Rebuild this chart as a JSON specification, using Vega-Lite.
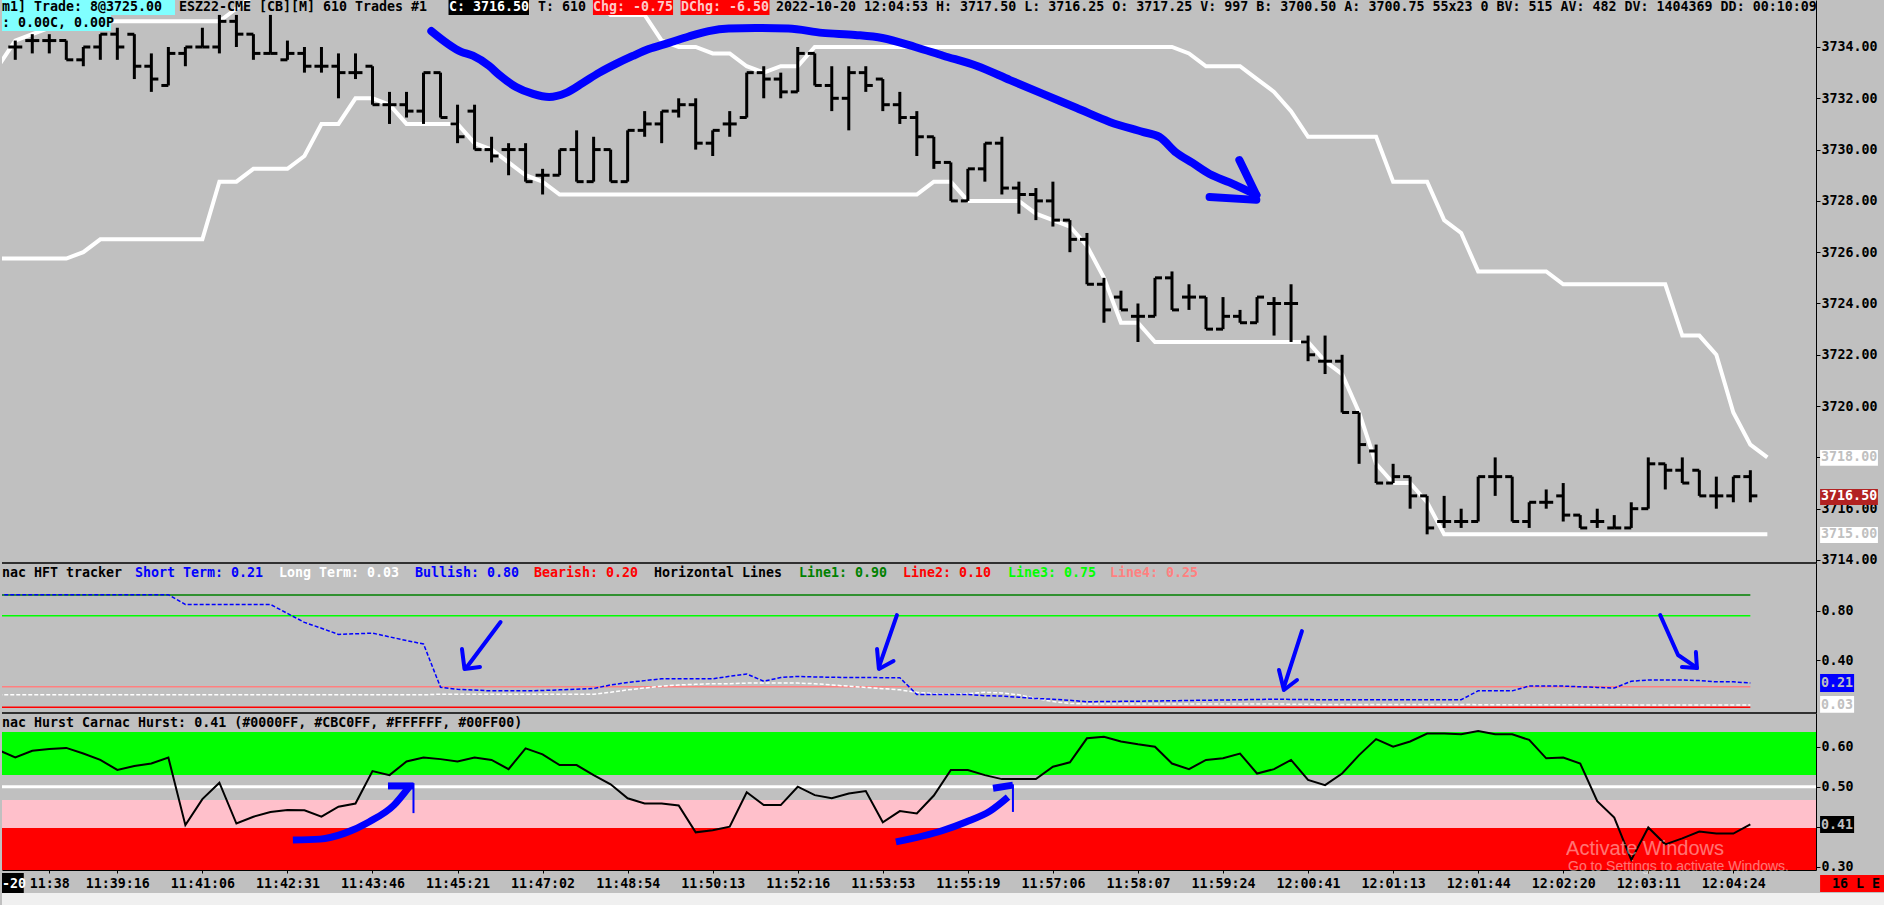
{
"$schema":"https://vega.github.io/schema/vega-lite/v6.json",
"background":"#C0C0C0",
"padding":0,
"spacing":0,
"bounds":"flush",
"config":{
 "view":{"stroke":null,"fill":"#C0C0C0"},
 "concat":{"spacing":0}
},
"datasets":{
"bars":[{"i":0,"o":3734,"h":3734.25,"l":3733.5,"c":3734},{"i":1,"o":3734.25,"h":3734.5,"l":3733.75,"c":3734.25},{"i":2,"o":3734.25,"h":3734.5,"l":3733.75,"c":3734.25},{"i":3,"o":3734.25,"h":3734.25,"l":3733.5,"c":3733.5},{"i":4,"o":3733.5,"h":3734,"l":3733.25,"c":3734},{"i":5,"o":3734,"h":3734.5,"l":3733.5,"c":3734.5},{"i":6,"o":3734.5,"h":3734.75,"l":3733.5,"c":3734},{"i":7,"o":3734.5,"h":3734.5,"l":3732.75,"c":3733.25},{"i":8,"o":3733.25,"h":3733.75,"l":3732.25,"c":3732.75},{"i":9,"o":3732.5,"h":3734,"l":3732.5,"c":3733.75},{"i":10,"o":3733.75,"h":3734,"l":3733.25,"c":3734},{"i":11,"o":3734,"h":3734.75,"l":3734,"c":3734},{"i":12,"o":3734,"h":3735.25,"l":3733.75,"c":3735},{"i":13,"o":3735,"h":3735.25,"l":3734,"c":3734.5},{"i":14,"o":3734.5,"h":3734.5,"l":3733.5,"c":3733.75},{"i":15,"o":3733.75,"h":3735.25,"l":3733.75,"c":3733.75},{"i":16,"o":3733.5,"h":3734.25,"l":3733.5,"c":3733.75},{"i":17,"o":3733.75,"h":3734,"l":3733,"c":3733.25},{"i":18,"o":3733.25,"h":3734,"l":3733,"c":3733.25},{"i":19,"o":3733.25,"h":3733.75,"l":3732,"c":3733},{"i":20,"o":3733,"h":3733.75,"l":3732.75,"c":3733},{"i":21,"o":3733.25,"h":3733.25,"l":3731.75,"c":3731.75},{"i":22,"o":3731.75,"h":3732.25,"l":3731,"c":3731.75},{"i":23,"o":3731.75,"h":3732.25,"l":3731.25,"c":3731.5},{"i":24,"o":3731.5,"h":3733,"l":3731,"c":3733},{"i":25,"o":3733,"h":3733,"l":3731.25,"c":3731.25},{"i":26,"o":3731,"h":3731.75,"l":3730.25,"c":3730.5},{"i":27,"o":3731.5,"h":3731.75,"l":3730,"c":3730},{"i":28,"o":3730,"h":3730.5,"l":3729.5,"c":3729.75},{"i":29,"o":3730,"h":3730.25,"l":3729,"c":3730},{"i":30,"o":3730,"h":3730.25,"l":3728.75,"c":3728.75},{"i":31,"o":3729,"h":3729.25,"l":3728.25,"c":3729},{"i":32,"o":3729,"h":3730,"l":3729,"c":3730},{"i":33,"o":3730,"h":3730.75,"l":3728.75,"c":3728.75},{"i":34,"o":3728.75,"h":3730.5,"l":3728.75,"c":3730},{"i":35,"o":3730,"h":3730,"l":3728.75,"c":3728.75},{"i":36,"o":3728.75,"h":3730.75,"l":3728.75,"c":3730.75},{"i":37,"o":3730.75,"h":3731.5,"l":3730.5,"c":3731},{"i":38,"o":3731,"h":3731.5,"l":3730.25,"c":3731.5},{"i":39,"o":3731.5,"h":3732,"l":3731.25,"c":3731.75},{"i":40,"o":3731.75,"h":3732,"l":3730,"c":3730.25},{"i":41,"o":3730.25,"h":3730.75,"l":3729.75,"c":3730.75},{"i":42,"o":3731,"h":3731.5,"l":3730.5,"c":3731},{"i":43,"o":3731.25,"h":3733,"l":3731.25,"c":3733},{"i":44,"o":3733,"h":3733.25,"l":3732,"c":3732.75},{"i":45,"o":3732.75,"h":3733,"l":3732,"c":3732.25},{"i":46,"o":3732.25,"h":3734,"l":3732.25,"c":3733.75},{"i":47,"o":3733.75,"h":3733.75,"l":3732.5,"c":3732.5},{"i":48,"o":3732.5,"h":3733.25,"l":3731.5,"c":3732},{"i":49,"o":3732,"h":3733.25,"l":3730.75,"c":3733},{"i":50,"o":3733,"h":3733.25,"l":3732.25,"c":3732.5},{"i":51,"o":3732.75,"h":3732.75,"l":3731.5,"c":3731.75},{"i":52,"o":3731.75,"h":3732.25,"l":3731,"c":3731.25},{"i":53,"o":3731.25,"h":3731.5,"l":3729.75,"c":3730.5},{"i":54,"o":3730.5,"h":3730.5,"l":3729.25,"c":3729.5},{"i":55,"o":3729.5,"h":3729.5,"l":3728,"c":3728},{"i":56,"o":3728,"h":3729.25,"l":3728,"c":3729.25},{"i":57,"o":3729.25,"h":3730.25,"l":3728.75,"c":3730.25},{"i":58,"o":3730.25,"h":3730.5,"l":3728.25,"c":3728.5},{"i":59,"o":3728.5,"h":3728.75,"l":3727.5,"c":3728.25},{"i":60,"o":3728.25,"h":3728.5,"l":3727.25,"c":3728},{"i":61,"o":3728,"h":3728.75,"l":3727,"c":3727.25},{"i":62,"o":3727.25,"h":3727.25,"l":3726,"c":3726.5},{"i":63,"o":3726.5,"h":3726.75,"l":3724.75,"c":3724.75},{"i":64,"o":3724.75,"h":3725,"l":3723.25,"c":3723.75},{"i":65,"o":3724.25,"h":3724.5,"l":3723.75,"c":3723.75},{"i":66,"o":3723.5,"h":3724,"l":3722.5,"c":3723.5},{"i":67,"o":3723.5,"h":3725,"l":3723.5,"c":3725},{"i":68,"o":3725,"h":3725.25,"l":3723.75,"c":3723.75},{"i":69,"o":3724.25,"h":3724.75,"l":3723.75,"c":3724.25},{"i":70,"o":3724.25,"h":3724.25,"l":3723,"c":3723},{"i":71,"o":3723,"h":3724.25,"l":3723,"c":3723.5},{"i":72,"o":3723.5,"h":3723.75,"l":3723.25,"c":3723.25},{"i":73,"o":3723.25,"h":3724.25,"l":3723.25,"c":3724.25},{"i":74,"o":3724,"h":3724.25,"l":3722.75,"c":3724},{"i":75,"o":3724,"h":3724.75,"l":3722.5,"c":3724},{"i":76,"o":3722.5,"h":3722.75,"l":3721.75,"c":3722},{"i":77,"o":3721.75,"h":3722.75,"l":3721.25,"c":3721.75},{"i":78,"o":3721.75,"h":3722,"l":3719.75,"c":3719.75},{"i":79,"o":3719.75,"h":3719.75,"l":3717.75,"c":3718.5},{"i":80,"o":3718.25,"h":3718.5,"l":3717,"c":3717},{"i":81,"o":3717,"h":3717.75,"l":3717,"c":3717.25},{"i":82,"o":3717.25,"h":3717.25,"l":3716,"c":3716.5},{"i":83,"o":3716.5,"h":3716.5,"l":3715,"c":3715.25},{"i":84,"o":3715.5,"h":3716.5,"l":3715.25,"c":3715.5},{"i":85,"o":3715.5,"h":3716,"l":3715.25,"c":3715.5},{"i":86,"o":3715.5,"h":3717.25,"l":3715.5,"c":3717.25},{"i":87,"o":3717.25,"h":3718,"l":3716.5,"c":3717.25},{"i":88,"o":3717.25,"h":3717.25,"l":3715.5,"c":3715.5},{"i":89,"o":3715.5,"h":3716.25,"l":3715.25,"c":3716.25},{"i":90,"o":3716.25,"h":3716.75,"l":3716,"c":3716.25},{"i":91,"o":3716.5,"h":3717,"l":3715.5,"c":3715.75},{"i":92,"o":3715.75,"h":3715.75,"l":3715.25,"c":3715.25},{"i":93,"o":3715.5,"h":3716,"l":3715.25,"c":3715.5},{"i":94,"o":3715.25,"h":3715.75,"l":3715.25,"c":3715.25},{"i":95,"o":3715.25,"h":3716.25,"l":3715.25,"c":3716},{"i":96,"o":3716,"h":3718,"l":3716,"c":3717.75},{"i":97,"o":3717.75,"h":3717.75,"l":3716.75,"c":3717.5},{"i":98,"o":3717.5,"h":3718,"l":3717,"c":3717},{"i":99,"o":3717.5,"h":3717.5,"l":3716.5,"c":3716.5},{"i":100,"o":3716.5,"h":3717.25,"l":3716,"c":3716.5},{"i":101,"o":3716.5,"h":3717.25,"l":3716.25,"c":3717.25},{"i":102,"o":3717.25,"h":3717.5,"l":3716.25,"c":3716.5}],
"chan":[{"k":"u","i":-1,"v":3733.25},{"k":"u","i":0,"v":3734.25},{"k":"u","i":1,"v":3734.5},{"k":"u","i":2,"v":3734.75},{"k":"u","i":3,"v":3735},{"k":"u","i":4,"v":3735},{"k":"u","i":5,"v":3735},{"k":"u","i":6,"v":3735},{"k":"u","i":7,"v":3735},{"k":"u","i":8,"v":3735},{"k":"u","i":9,"v":3735},{"k":"u","i":10,"v":3735},{"k":"u","i":11,"v":3735},{"k":"u","i":12,"v":3735},{"k":"u","i":13,"v":3735.5},{"k":"u","i":14,"v":3736},{"k":"u","i":20,"v":3736},{"k":"u","i":30,"v":3736},{"k":"u","i":34,"v":3736},{"k":"u","i":35,"v":3735.25},{"k":"u","i":36,"v":3735.25},{"k":"u","i":37,"v":3735.25},{"k":"u","i":38,"v":3734.25},{"k":"u","i":39,"v":3734},{"k":"u","i":40,"v":3734},{"k":"u","i":41,"v":3733.75},{"k":"u","i":42,"v":3733.75},{"k":"u","i":43,"v":3733.25},{"k":"u","i":44,"v":3733},{"k":"u","i":45,"v":3733.25},{"k":"u","i":46,"v":3733.25},{"k":"u","i":47,"v":3734},{"k":"u","i":55,"v":3734},{"k":"u","i":60,"v":3734},{"k":"u","i":68,"v":3734},{"k":"u","i":69,"v":3733.75},{"k":"u","i":70,"v":3733.25},{"k":"u","i":71,"v":3733.25},{"k":"u","i":72,"v":3733.25},{"k":"u","i":73,"v":3732.75},{"k":"u","i":74,"v":3732.25},{"k":"u","i":75,"v":3731.5},{"k":"u","i":76,"v":3730.5},{"k":"u","i":77,"v":3730.5},{"k":"u","i":78,"v":3730.5},{"k":"u","i":79,"v":3730.5},{"k":"u","i":80,"v":3730.5},{"k":"u","i":81,"v":3728.75},{"k":"u","i":82,"v":3728.75},{"k":"u","i":83,"v":3728.75},{"k":"u","i":84,"v":3727.25},{"k":"u","i":85,"v":3726.75},{"k":"u","i":86,"v":3725.25},{"k":"u","i":87,"v":3725.25},{"k":"u","i":88,"v":3725.25},{"k":"u","i":89,"v":3725.25},{"k":"u","i":90,"v":3725.25},{"k":"u","i":91,"v":3724.75},{"k":"u","i":92,"v":3724.75},{"k":"u","i":93,"v":3724.75},{"k":"u","i":94,"v":3724.75},{"k":"u","i":95,"v":3724.75},{"k":"u","i":96,"v":3724.75},{"k":"u","i":97,"v":3724.75},{"k":"u","i":98,"v":3722.75},{"k":"u","i":99,"v":3722.75},{"k":"u","i":100,"v":3722},{"k":"u","i":101,"v":3719.75},{"k":"u","i":102,"v":3718.5},{"k":"u","i":103,"v":3718},
{"k":"d","i":-1,"v":3725.75},{"k":"d","i":0,"v":3725.75},{"k":"d","i":1,"v":3725.75},{"k":"d","i":2,"v":3725.75},{"k":"d","i":3,"v":3725.75},{"k":"d","i":4,"v":3726},{"k":"d","i":5,"v":3726.5},{"k":"d","i":6,"v":3726.5},{"k":"d","i":7,"v":3726.5},{"k":"d","i":8,"v":3726.5},{"k":"d","i":9,"v":3726.5},{"k":"d","i":10,"v":3726.5},{"k":"d","i":11,"v":3726.5},{"k":"d","i":12,"v":3728.75},{"k":"d","i":13,"v":3728.75},{"k":"d","i":14,"v":3729.25},{"k":"d","i":15,"v":3729.25},{"k":"d","i":16,"v":3729.25},{"k":"d","i":17,"v":3729.75},{"k":"d","i":18,"v":3731},{"k":"d","i":19,"v":3731},{"k":"d","i":20,"v":3732},{"k":"d","i":21,"v":3732},{"k":"d","i":22,"v":3731.75},{"k":"d","i":23,"v":3731},{"k":"d","i":24,"v":3731},{"k":"d","i":25,"v":3731},{"k":"d","i":26,"v":3731},{"k":"d","i":27,"v":3730.25},{"k":"d","i":28,"v":3730},{"k":"d","i":29,"v":3729.5},{"k":"d","i":30,"v":3729},{"k":"d","i":31,"v":3728.75},{"k":"d","i":32,"v":3728.25},{"k":"d","i":40,"v":3728.25},{"k":"d","i":50,"v":3728.25},{"k":"d","i":53,"v":3728.25},{"k":"d","i":54,"v":3728.75},{"k":"d","i":55,"v":3728.75},{"k":"d","i":56,"v":3728},{"k":"d","i":57,"v":3728},{"k":"d","i":58,"v":3728},{"k":"d","i":59,"v":3728},{"k":"d","i":60,"v":3727.5},{"k":"d","i":61,"v":3727.25},{"k":"d","i":62,"v":3727},{"k":"d","i":63,"v":3726.25},{"k":"d","i":64,"v":3725},{"k":"d","i":65,"v":3723.25},{"k":"d","i":66,"v":3723.25},{"k":"d","i":67,"v":3722.5},{"k":"d","i":70,"v":3722.5},{"k":"d","i":76,"v":3722.5},{"k":"d","i":77,"v":3721.75},{"k":"d","i":78,"v":3721.25},{"k":"d","i":79,"v":3719.75},{"k":"d","i":80,"v":3717.75},{"k":"d","i":81,"v":3717},{"k":"d","i":82,"v":3717},{"k":"d","i":83,"v":3716.25},{"k":"d","i":84,"v":3715},{"k":"d","i":90,"v":3715},{"k":"d","i":100,"v":3715},{"k":"d","i":103,"v":3715}],
"annP":[{"g":"c","i":24.46,"v":3734.62},{"g":"c","i":26.22,"v":3733.81},{"g":"c","i":26.9,"v":3733.66},{"g":"c","i":27.86,"v":3733.26},{"g":"c","i":28.45,"v":3732.91},{"g":"c","i":29.44,"v":3732.44},{"g":"c","i":30.44,"v":3732.17},{"g":"c","i":31.38,"v":3732.05},{"g":"c","i":32.38,"v":3732.21},{"g":"c","i":33.37,"v":3732.6},{"g":"c","i":34.31,"v":3732.99},{"g":"c","i":35.31,"v":3733.34},{"g":"c","i":36.3,"v":3733.65},{"g":"c","i":37.24,"v":3733.92},{"g":"c","i":38.42,"v":3734.16},{"g":"c","i":39.59,"v":3734.41},{"g":"c","i":40.76,"v":3734.62},{"g":"c","i":41.94,"v":3734.72},{"g":"c","i":43.52,"v":3734.74},{"g":"c","i":45.45,"v":3734.72},{"g":"c","i":47.45,"v":3734.55},{"g":"c","i":49.38,"v":3734.47},{"g":"c","i":50.97,"v":3734.35},{"g":"c","i":52.9,"v":3734.0},{"g":"c","i":54.55,"v":3733.66},{"g":"c","i":56.54,"v":3733.26},{"g":"c","i":58.48,"v":3732.71},{"g":"c","i":60.41,"v":3732.17},{"g":"c","i":62.4,"v":3731.62},{"g":"c","i":64.34,"v":3731.08},{"g":"c","i":66.28,"v":3730.69},{"g":"c","i":67.27,"v":3730.49},{"g":"c","i":68.27,"v":3729.87},{"g":"c","i":69.21,"v":3729.48},{"g":"c","i":70.21,"v":3729.05},{"g":"c","i":71.38,"v":3728.72},{"g":"c","i":72.96,"v":3728.23},{"g":"h1","i":71.96,"v":3729.59},{"g":"h1","i":72.96,"v":3728.23},{"g":"h2","i":70.21,"v":3728.15},{"g":"h2","i":72.96,"v":3728.04}],
"pbox":[{"b":"cyan","i1":-0.78,"i2":9.39,"v1":3735.25,"v2":3735.832},{"b":"cyan","i1":-0.78,"i2":5.63,"v1":3734.62,"v2":3735.25},{"b":"black","i1":25.47,"i2":30.2,"v1":3735.25,"v2":3735.832},{"b":"red","i1":33.96,"i2":38.67,"v1":3735.25,"v2":3735.832},{"b":"red","i1":39.11,"i2":44.34,"v1":3735.25,"v2":3735.832},{"b":"white","i1":106.1,"i2":109.5,"v1":3717.67,"v2":3718.29},{"b":"brown","i1":106.1,"i2":109.5,"v1":3716.14,"v2":3716.77},{"b":"white","i1":106.1,"i2":109.5,"v1":3714.66,"v2":3715.29}],
"ptext":[{"t":"m1]  Trade: 8@3725.00","i":-0.78,"v":3735.54,"r":"dark"},{"t":": 0.00C, 0.00P","i":-0.78,"v":3734.94,"r":"dark"},{"t":"ESZ22-CME [CB][M]  610 Trades  #1","i":9.62,"v":3735.54,"r":"dark"},{"t":"C: 3716.50","i":25.5,"v":3735.54,"r":"white"},{"t":"T: 610","i":30.73,"v":3735.54,"r":"dark"},{"t":"Chg: -0.75","i":33.96,"v":3735.54,"r":"pink"},{"t":"DChg: -6.50","i":39.14,"v":3735.54,"r":"pink"},{"t":"2022-10-20 12:04:53 H: 3717.50 L: 3716.25 O: 3717.25 V: 997 B: 3700.50 A: 3700.75 55x23 0 BV: 515 AV: 482 DV: 1404369 DD: 00:10:09","i":44.72,"v":3735.54,"r":"dark"},{"t":"3718.00","i":106.16,"v":3718.0,"r":"gray"},{"t":"3716.50","i":106.16,"v":3716.5,"r":"white"},{"t":"3715.00","i":106.16,"v":3715.0,"r":"gray"}],
"hft":[{"i":-1,"s":0.932,"lt":0.12},{"i":0,"s":0.932,"lt":0.12},{"i":3,"s":0.932,"lt":0.12},{"i":6,"s":0.932,"lt":0.12},{"i":9,"s":0.932,"lt":0.12},{"i":10,"s":0.853,"lt":0.12},{"i":12,"s":0.853,"lt":0.12},{"i":15,"s":0.853,"lt":0.12},{"i":16,"s":0.78,"lt":0.12},{"i":17,"s":0.707,"lt":0.12},{"i":18,"s":0.66,"lt":0.12},{"i":19,"s":0.61,"lt":0.12},{"i":20,"s":0.615,"lt":0.12},{"i":21,"s":0.62,"lt":0.12},{"i":22,"s":0.59,"lt":0.12},{"i":23,"s":0.56,"lt":0.12},{"i":24,"s":0.532,"lt":0.12},{"i":25,"s":0.181,"lt":0.125},{"i":26,"s":0.165,"lt":0.125},{"i":27,"s":0.158,"lt":0.125},{"i":28,"s":0.152,"lt":0.125},{"i":29,"s":0.152,"lt":0.125},{"i":30,"s":0.152,"lt":0.125},{"i":31,"s":0.155,"lt":0.125},{"i":32,"s":0.16,"lt":0.125},{"i":33,"s":0.165,"lt":0.125},{"i":34,"s":0.171,"lt":0.125},{"i":35,"s":0.2,"lt":0.14},{"i":36,"s":0.22,"lt":0.16},{"i":37,"s":0.235,"lt":0.175},{"i":38,"s":0.25,"lt":0.19},{"i":39,"s":0.25,"lt":0.2},{"i":40,"s":0.25,"lt":0.205},{"i":41,"s":0.25,"lt":0.21},{"i":42,"s":0.27,"lt":0.21},{"i":43,"s":0.289,"lt":0.215},{"i":44,"s":0.23,"lt":0.215},{"i":45,"s":0.26,"lt":0.215},{"i":46,"s":0.269,"lt":0.215},{"i":47,"s":0.265,"lt":0.21},{"i":48,"s":0.262,"lt":0.2},{"i":49,"s":0.26,"lt":0.19},{"i":50,"s":0.26,"lt":0.18},{"i":51,"s":0.259,"lt":0.17},{"i":52,"s":0.259,"lt":0.16},{"i":53,"s":0.122,"lt":0.14},{"i":54,"s":0.122,"lt":0.13},{"i":55,"s":0.122,"lt":0.125},{"i":56,"s":0.122,"lt":0.13},{"i":57,"s":0.113,"lt":0.14},{"i":58,"s":0.11,"lt":0.135},{"i":59,"s":0.1,"lt":0.12},{"i":60,"s":0.09,"lt":0.09},{"i":61,"s":0.084,"lt":0.065},{"i":62,"s":0.075,"lt":0.05},{"i":63,"s":0.064,"lt":0.045},{"i":66,"s":0.068,"lt":0.045},{"i":70,"s":0.076,"lt":0.045},{"i":74,"s":0.084,"lt":0.045},{"i":77,"s":0.08,"lt":0.042},{"i":85,"s":0.08,"lt":0.042},{"i":86,"s":0.152,"lt":0.04},{"i":88,"s":0.152,"lt":0.04},{"i":89,"s":0.191,"lt":0.04},{"i":91,"s":0.191,"lt":0.04},{"i":92,"s":0.185,"lt":0.04},{"i":93,"s":0.18,"lt":0.04},{"i":94,"s":0.175,"lt":0.04},{"i":95,"s":0.23,"lt":0.038},{"i":96,"s":0.24,"lt":0.038},{"i":98,"s":0.24,"lt":0.038},{"i":99,"s":0.235,"lt":0.037},{"i":100,"s":0.225,"lt":0.037},{"i":101,"s":0.225,"lt":0.037},{"i":102,"s":0.216,"lt":0.037}],
"levels":[{"n":"Line1","v":0.929},{"n":"Line3","v":0.762},{"n":"Line4","v":0.186},{"n":"Line2","v":0.019}],
"annH":[{"g":"a1","i":28.53,"v":0.71},{"g":"a1","i":26.55,"v":0.345},{"g":"a1h","i":26.26,"v":0.492},{"g":"a1h","i":26.41,"v":0.33},{"g":"a1h","i":27.32,"v":0.345},{"g":"a2","i":51.83,"v":0.767},{"g":"a2","i":50.77,"v":0.345},{"g":"a2h","i":50.66,"v":0.492},{"g":"a2h","i":50.77,"v":0.33},{"g":"a2h","i":51.63,"v":0.394},{"g":"a3","i":75.64,"v":0.637},{"g":"a3","i":74.58,"v":0.183},{"g":"a3h","i":74.29,"v":0.321},{"g":"a3h","i":74.58,"v":0.159},{"g":"a3h","i":75.35,"v":0.24},{"g":"a4","i":96.7,"v":0.767},{"g":"a4","i":97.75,"v":0.443},{"g":"a4","i":98.8,"v":0.345},{"g":"a4h1","i":97.98,"v":0.345},{"g":"a4h1","i":98.86,"v":0.337},{"g":"a4h2","i":98.86,"v":0.337},{"g":"a4h2","i":98.8,"v":0.467}],
"hbox":[{"b":"blue","i1":106.1,"i2":108.1,"v1":0.143,"v2":0.289},{"b":"white","i1":106.1,"i2":108.1,"v1":-0.026,"v2":0.11}],
"htext":[{"t":"nac HFT tracker","i":-0.78,"v":1.108,"r":"dark"},{"t":"Short Term: 0.21","i":7.04,"v":1.108,"r":"blue"},{"t":"Long Term: 0.03","i":15.5,"v":1.108,"r":"white"},{"t":"Bullish: 0.80","i":23.5,"v":1.108,"r":"blue"},{"t":"Bearish: 0.20","i":30.49,"v":1.108,"r":"red"},{"t":"Horizontal Lines","i":37.55,"v":1.108,"r":"dark"},{"t":"Line1: 0.90","i":46.07,"v":1.108,"r":"dgreen"},{"t":"Line2: 0.10","i":52.19,"v":1.108,"r":"red"},{"t":"Line3: 0.75","i":58.36,"v":1.108,"r":"green"},{"t":"Line4: 0.25","i":64.36,"v":1.108,"r":"coral"},{"t":"0.21","i":106.16,"v":0.216,"r":"gray"},{"t":"0.03","i":106.16,"v":0.037,"r":"gray"}],
"hurst":[{"i":-1,"v":0.592},{"i":0,"v":0.573},{"i":1,"v":0.59},{"i":2,"v":0.594},{"i":3,"v":0.597},{"i":4,"v":0.583},{"i":5,"v":0.567},{"i":6,"v":0.542},{"i":7,"v":0.552},{"i":8,"v":0.558},{"i":9,"v":0.573},{"i":10,"v":0.404},{"i":11,"v":0.469},{"i":12,"v":0.51},{"i":13,"v":0.408},{"i":14,"v":0.425},{"i":15,"v":0.437},{"i":16,"v":0.442},{"i":17,"v":0.441},{"i":18,"v":0.425},{"i":19,"v":0.45},{"i":20,"v":0.458},{"i":21,"v":0.539},{"i":22,"v":0.529},{"i":23,"v":0.563},{"i":24,"v":0.573},{"i":25,"v":0.569},{"i":26,"v":0.563},{"i":27,"v":0.573},{"i":28,"v":0.567},{"i":29,"v":0.544},{"i":30,"v":0.596},{"i":31,"v":0.581},{"i":32,"v":0.554},{"i":33,"v":0.554},{"i":34,"v":0.529},{"i":35,"v":0.506},{"i":36,"v":0.471},{"i":37,"v":0.458},{"i":38,"v":0.458},{"i":39,"v":0.453},{"i":40,"v":0.386},{"i":41,"v":0.391},{"i":42,"v":0.4},{"i":43,"v":0.486},{"i":44,"v":0.454},{"i":45,"v":0.454},{"i":46,"v":0.5},{"i":47,"v":0.479},{"i":48,"v":0.471},{"i":49,"v":0.483},{"i":50,"v":0.489},{"i":51,"v":0.411},{"i":52,"v":0.439},{"i":53,"v":0.433},{"i":54,"v":0.478},{"i":55,"v":0.542},{"i":56,"v":0.542},{"i":57,"v":0.529},{"i":58,"v":0.519},{"i":59,"v":0.519},{"i":60,"v":0.519},{"i":61,"v":0.55},{"i":62,"v":0.561},{"i":63,"v":0.621},{"i":64,"v":0.625},{"i":65,"v":0.613},{"i":66,"v":0.606},{"i":67,"v":0.6},{"i":68,"v":0.558},{"i":69,"v":0.544},{"i":70,"v":0.567},{"i":71,"v":0.571},{"i":72,"v":0.583},{"i":73,"v":0.533},{"i":74,"v":0.544},{"i":75,"v":0.567},{"i":76,"v":0.517},{"i":77,"v":0.504},{"i":78,"v":0.533},{"i":79,"v":0.579},{"i":80,"v":0.619},{"i":81,"v":0.6},{"i":82,"v":0.613},{"i":83,"v":0.633},{"i":84,"v":0.633},{"i":85,"v":0.631},{"i":86,"v":0.639},{"i":87,"v":0.631},{"i":88,"v":0.631},{"i":89,"v":0.617},{"i":90,"v":0.571},{"i":91,"v":0.573},{"i":92,"v":0.558},{"i":93,"v":0.464},{"i":94,"v":0.423},{"i":95,"v":0.317},{"i":96,"v":0.398},{"i":97,"v":0.356},{"i":98,"v":0.371},{"i":99,"v":0.388},{"i":100,"v":0.383},{"i":101,"v":0.383},{"i":102,"v":0.406}],
"urect":[{"b":"green","i1":-0.78,"i2":105.86,"v1":0.529,"v2":0.637},{"b":"pink","i1":-0.78,"i2":105.86,"v1":0.397,"v2":0.467},{"b":"red","i1":-0.78,"i2":105.86,"v1":0.2918,"v2":0.397},{"b":"black","i1":106.1,"i2":108.1,"v1":0.3843,"v2":0.4267},{"b":"red","i1":106.1,"i2":109.9,"v1":0.2368,"v2":0.2793},{"b":"black","i1":-0.78,"i2":0.5,"v1":0.2343,"v2":0.2843},{"b":"light","i1":-0.78,"i2":109.98,"v1":0.2043,"v2":0.2343}],
"annU":[{"g":"u1","i":16.32,"v":0.367},{"g":"u1","i":17.91,"v":0.369},{"g":"u1","i":19.38,"v":0.384},{"g":"u1","i":20.79,"v":0.412},{"g":"u1","i":22.26,"v":0.454},{"g":"u1","i":23.14,"v":0.499},{"g":"u1h","i":21.91,"v":0.502},{"g":"u1h","i":23.41,"v":0.502},{"g":"u2","i":51.77,"v":0.362},{"g":"u2","i":54.48,"v":0.39},{"g":"u2","i":55.89,"v":0.412},{"g":"u2","i":57.3,"v":0.439},{"g":"u2","i":58.36,"v":0.474},{"g":"u2h","i":57.48,"v":0.496},{"g":"u2h","i":58.65,"v":0.504}],
"annUs":[{"g":"u1s","i":23.41,"v":0.509},{"g":"u1s","i":23.41,"v":0.434},{"g":"u2s","i":58.65,"v":0.506},{"g":"u2s","i":58.65,"v":0.437}],
"utext":[{"t":"nac Hurst  Carnac Hurst: 0.41   (#0000FF, #CBC0FF, #FFFFFF, #00FF00)","i":-0.78,"v":0.659,"r":"dark"},{"t":"0.41","i":106.16,"v":0.4055,"r":"gray"},{"t":"16 L E","i":106.8,"v":0.258,"r":"dark"},{"t":"-20","i":-0.78,"v":0.258,"r":"white"}],
"wm":[{"t":"Activate Windows","i":91.17,"v":0.3443,"s":"big"},{"t":"Go to Settings to activate Windows.","i":91.28,"v":0.2993,"s":"small"}]
},
"vconcat":[
{
 "width":1814,"height":563,
 "resolve":{"scale":{"color":"independent","fill":"independent","stroke":"independent"}},
 "layer":[
  {"data":{"name":"chan"},"mark":{"type":"line","color":"#FFFFFF","strokeWidth":4,"clip":true},
   "encoding":{"x":{"field":"i","type":"quantitative","scale":{"domain":[-0.78,105.86],"nice":false,"zero":false},"axis":null},
    "y":{"field":"v","type":"quantitative","scale":{"domain":[3713.883,3735.832],"nice":false,"zero":false},
     "axis":{"orient":"right","title":null,"grid":false,"domain":true,"ticks":true,"labels":true,"values":[3714,3716,3718,3720,3722,3724,3726,3728,3730,3732,3734],"format":".2f","tickSize":4,"tickColor":"#000000","domainColor":"#000000","labelPadding":1,"labelFont":"DejaVu Sans Mono","labelFontSize":13.3,"labelFontWeight":"bold","labelColor":"#000000","labelFlush":false,"labelOverlap":false}},
    "detail":{"field":"k"}}},
  {"data":{"name":"bars"},"mark":{"type":"rule","color":"#000000","strokeWidth":3},
   "encoding":{"x":{"field":"i","type":"quantitative","scale":{"domain":[-0.78,105.86],"nice":false,"zero":false},"axis":null},
    "y":{"field":"l","type":"quantitative","scale":{"domain":[3713.883,3735.832],"nice":false,"zero":false},"axis":{"title":null}},
    "y2":{"field":"h"}}},
  {"data":{"name":"bars"},"mark":{"type":"tick","orient":"horizontal","size":7,"thickness":3,"xOffset":-3.5,"color":"#000000","opacity":1},
   "encoding":{"x":{"field":"i","type":"quantitative","scale":{"domain":[-0.78,105.86],"nice":false,"zero":false},"axis":null},
    "y":{"field":"o","type":"quantitative","scale":{"domain":[3713.883,3735.832],"nice":false,"zero":false},"axis":{"title":null}}}},
  {"data":{"name":"bars"},"mark":{"type":"tick","orient":"horizontal","size":7,"thickness":3,"xOffset":3.5,"color":"#000000","opacity":1},
   "encoding":{"x":{"field":"i","type":"quantitative","scale":{"domain":[-0.78,105.86],"nice":false,"zero":false},"axis":null},
    "y":{"field":"c","type":"quantitative","scale":{"domain":[3713.883,3735.832],"nice":false,"zero":false},"axis":{"title":null}}}},
  {"data":{"name":"annP"},"mark":{"type":"line","color":"#0000FF","strokeWidth":8,"strokeCap":"round","strokeJoin":"round","interpolate":"monotone"},
   "encoding":{"x":{"field":"i","type":"quantitative","scale":{"domain":[-0.78,105.86],"nice":false,"zero":false},"axis":null},
    "y":{"field":"v","type":"quantitative","scale":{"domain":[3713.883,3735.832],"nice":false,"zero":false},"axis":{"title":null}},
    "detail":{"field":"g"}}},
  {"data":{"name":"pbox"},"mark":{"type":"rect"},
   "encoding":{"x":{"field":"i1","type":"quantitative","scale":{"domain":[-0.78,105.86],"nice":false,"zero":false},"axis":null},"x2":{"field":"i2"},
    "y":{"field":"v1","type":"quantitative","scale":{"domain":[3713.883,3735.832],"nice":false,"zero":false},"axis":{"title":null}},"y2":{"field":"v2"},
    "fill":{"field":"b","type":"nominal","scale":{"domain":["cyan","black","red","white","brown"],"range":["#80FFFF","#000000","#FF0000","#FFFFFF","#B22222"]},"legend":null}}},
  {"data":{"name":"ptext"},"mark":{"type":"text","font":"DejaVu Sans Mono","fontSize":13.3,"fontWeight":"bold","baseline":"middle","align":"left"},
   "encoding":{"x":{"field":"i","type":"quantitative","scale":{"domain":[-0.78,105.86],"nice":false,"zero":false},"axis":null},
    "y":{"field":"v","type":"quantitative","scale":{"domain":[3713.883,3735.832],"nice":false,"zero":false},"axis":{"title":null}},
    "text":{"field":"t"},
    "color":{"field":"r","type":"nominal","scale":{"domain":["dark","white","pink","gray"],"range":["#000000","#FFFFFF","#FFC8C8","#C0C0C0"]},"legend":null}}}
 ]
},
{
 "width":1814,"height":150,
 "resolve":{"scale":{"color":"independent","fill":"independent","stroke":"independent"}},
 "layer":[
  {"data":{"name":"levels"},"mark":{"type":"rule","strokeWidth":1.5},
   "encoding":{"x":{"datum":-0.78,"type":"quantitative","scale":{"domain":[-0.78,105.86],"nice":false,"zero":false},"axis":null},"x2":{"datum":102},
    "y":{"field":"v","type":"quantitative","scale":{"domain":[-0.0276,1.189],"nice":false,"zero":false},
     "axis":{"orient":"right","title":null,"grid":false,"domain":true,"ticks":true,"labels":true,"values":[0.8,0.4],"format":".2f","tickSize":4,"tickColor":"#000000","domainColor":"#000000","labelPadding":1,"labelFont":"DejaVu Sans Mono","labelFontSize":13.3,"labelFontWeight":"bold","labelColor":"#000000","labelFlush":false,"labelOverlap":false}},
    "stroke":{"field":"n","type":"nominal","scale":{"domain":["Line1","Line3","Line4","Line2"],"range":["#008000","#00FF00","#FF8080","#FF0000"]},"legend":null}}},
  {"data":{"name":"hft"},"mark":{"type":"line","color":"#FFFFFF","strokeWidth":1.5,"strokeDash":[4,2],"clip":true},
   "encoding":{"x":{"field":"i","type":"quantitative","scale":{"domain":[-0.78,105.86],"nice":false,"zero":false},"axis":null},
    "y":{"field":"lt","type":"quantitative","scale":{"domain":[-0.0276,1.189],"nice":false,"zero":false},"axis":{"title":null}}}},
  {"data":{"name":"hft"},"mark":{"type":"line","color":"#0000FF","strokeWidth":1.5,"strokeDash":[4,2],"clip":true},
   "encoding":{"x":{"field":"i","type":"quantitative","scale":{"domain":[-0.78,105.86],"nice":false,"zero":false},"axis":null},
    "y":{"field":"s","type":"quantitative","scale":{"domain":[-0.0276,1.189],"nice":false,"zero":false},"axis":{"title":null}}}},
  {"data":{"name":"annH"},"mark":{"type":"line","color":"#0000FF","strokeWidth":4,"strokeCap":"round","strokeJoin":"round"},
   "encoding":{"x":{"field":"i","type":"quantitative","scale":{"domain":[-0.78,105.86],"nice":false,"zero":false},"axis":null},
    "y":{"field":"v","type":"quantitative","scale":{"domain":[-0.0276,1.189],"nice":false,"zero":false},"axis":{"title":null}},
    "detail":{"field":"g"}}},
  {"data":{"values":[{}]},"mark":{"type":"rule","color":"#000000","strokeWidth":1.5},
   "encoding":{"y":{"datum":1.189,"type":"quantitative","scale":{"domain":[-0.0276,1.189],"nice":false,"zero":false},"axis":{"title":null}}}},
  {"data":{"name":"hbox"},"mark":{"type":"rect"},
   "encoding":{"x":{"field":"i1","type":"quantitative","scale":{"domain":[-0.78,105.86],"nice":false,"zero":false},"axis":null},"x2":{"field":"i2"},
    "y":{"field":"v1","type":"quantitative","scale":{"domain":[-0.0276,1.189],"nice":false,"zero":false},"axis":{"title":null}},"y2":{"field":"v2"},
    "fill":{"field":"b","type":"nominal","scale":{"domain":["blue","white"],"range":["#0000FF","#FFFFFF"]},"legend":null}}},
  {"data":{"name":"htext"},"mark":{"type":"text","font":"DejaVu Sans Mono","fontSize":13.3,"fontWeight":"bold","baseline":"middle","align":"left"},
   "encoding":{"x":{"field":"i","type":"quantitative","scale":{"domain":[-0.78,105.86],"nice":false,"zero":false},"axis":null},
    "y":{"field":"v","type":"quantitative","scale":{"domain":[-0.0276,1.189],"nice":false,"zero":false},"axis":{"title":null}},
    "text":{"field":"t"},
    "color":{"field":"r","type":"nominal","scale":{"domain":["dark","blue","white","red","dgreen","green","coral","gray"],"range":["#000000","#0000FF","#FFFFFF","#FF0000","#008000","#00FF00","#FF8080","#C0C0C0"]},"legend":null}}}
 ]
},
{
 "width":1814,"height":157,
 "resolve":{"scale":{"color":"independent","fill":"independent","stroke":"independent"}},
 "layer":[
  {"data":{"name":"urect"},"mark":{"type":"rect"},
   "encoding":{"x":{"field":"i1","type":"quantitative","scale":{"domain":[-0.78,105.86],"nice":false,"zero":false},"axis":{"title":null}},"x2":{"field":"i2"},
    "y":{"field":"v1","type":"quantitative","scale":{"domain":[0.2918,0.6843],"nice":false,"zero":false},"axis":{"title":null}},"y2":{"field":"v2"},
    "fill":{"field":"b","type":"nominal","scale":{"domain":["green","pink","red","black","light"],"range":["#00FF00","#FFC0CB","#FF0000","#000000","#F0F0F0"]},"legend":null}}},
  {"data":{"values":[{}]},"mark":{"type":"rule","color":"#FFFFFF","strokeWidth":3},
   "encoding":{"y":{"datum":0.5,"type":"quantitative","scale":{"domain":[0.2918,0.6843],"nice":false,"zero":false},"axis":{"title":null}}}},
  {"data":{"name":"hurst"},"mark":{"type":"line","color":"#000000","strokeWidth":2,"clip":true},
   "encoding":{"x":{"field":"i","type":"quantitative","scale":{"domain":[-0.78,105.86],"nice":false,"zero":false},
     "axis":{"orient":"bottom","title":null,"grid":false,"domain":true,"ticks":true,"labels":true,"values":[2,6,11,16,21,26,31,36,41,46,51,56,61,66,71,76,81,86,91,96,101],"labelExpr":"['11:38','11:39:16','11:41:06','11:42:31','11:43:46','11:45:21','11:47:02','11:48:54','11:50:13','11:52:16','11:53:53','11:55:19','11:57:06','11:58:07','11:59:24','12:00:41','12:01:13','12:01:44','12:02:20','12:03:11','12:04:24'][indexof([2,6,11,16,21,26,31,36,41,46,51,56,61,66,71,76,81,86,91,96,101], datum.value)]","tickSize":3,"tickColor":"#000000","domainColor":"#000000","labelPadding":3,"labelAngle":0,"labelAlign":"center","labelBaseline":"top","labelFont":"DejaVu Sans Mono","labelFontSize":13.3,"labelFontWeight":"bold","labelColor":"#000000","labelFlush":false,"labelOverlap":false}},
    "y":{"field":"v","type":"quantitative","scale":{"domain":[0.2918,0.6843],"nice":false,"zero":false},
     "axis":{"orient":"right","title":null,"grid":false,"domain":true,"ticks":true,"labels":true,"values":[0.6,0.5,0.4,0.3],"format":".2f","tickSize":4,"tickColor":"#000000","domainColor":"#000000","labelPadding":1,"labelFont":"DejaVu Sans Mono","labelFontSize":13.3,"labelFontWeight":"bold","labelColor":"#000000","labelFlush":false,"labelOverlap":false}}}},
  {"data":{"name":"annU"},"mark":{"type":"line","color":"#0000FF","strokeWidth":7,"strokeJoin":"round","interpolate":"monotone"},
   "encoding":{"x":{"field":"i","type":"quantitative","scale":{"domain":[-0.78,105.86],"nice":false,"zero":false},"axis":{"title":null}},
    "y":{"field":"v","type":"quantitative","scale":{"domain":[0.2918,0.6843],"nice":false,"zero":false},"axis":{"title":null}},
    "detail":{"field":"g"}}},
  {"data":{"name":"annUs"},"mark":{"type":"line","color":"#0000FF","strokeWidth":2},
   "encoding":{"x":{"field":"i","type":"quantitative","scale":{"domain":[-0.78,105.86],"nice":false,"zero":false},"axis":{"title":null}},
    "y":{"field":"v","type":"quantitative","scale":{"domain":[0.2918,0.6843],"nice":false,"zero":false},"axis":{"title":null}},
    "detail":{"field":"g"}}},
  {"data":{"values":[{}]},"mark":{"type":"rule","color":"#000000","strokeWidth":1.5},
   "encoding":{"y":{"datum":0.6843,"type":"quantitative","scale":{"domain":[0.2918,0.6843],"nice":false,"zero":false},"axis":{"title":null}}}},
  {"data":{"name":"utext"},"mark":{"type":"text","font":"DejaVu Sans Mono","fontSize":13.3,"fontWeight":"bold","baseline":"middle","align":"left"},
   "encoding":{"x":{"field":"i","type":"quantitative","scale":{"domain":[-0.78,105.86],"nice":false,"zero":false},"axis":{"title":null}},
    "y":{"field":"v","type":"quantitative","scale":{"domain":[0.2918,0.6843],"nice":false,"zero":false},"axis":{"title":null}},
    "text":{"field":"t"},
    "color":{"field":"r","type":"nominal","scale":{"domain":["dark","white","gray"],"range":["#000000","#FFFFFF","#C0C0C0"]},"legend":null}}},
  {"data":{"name":"wm"},"mark":{"type":"text","font":"Liberation Sans","fontWeight":"normal","baseline":"middle","align":"left","fill":"#FFFFFF","opacity":0.45},
   "encoding":{"x":{"field":"i","type":"quantitative","scale":{"domain":[-0.78,105.86],"nice":false,"zero":false},"axis":{"title":null}},
    "y":{"field":"v","type":"quantitative","scale":{"domain":[0.2918,0.6843],"nice":false,"zero":false},"axis":{"title":null}},
    "text":{"field":"t"},
    "size":{"field":"s","type":"nominal","scale":{"domain":["big","small"],"range":[20,14]},"legend":null}}}
 ]
}
]
}
